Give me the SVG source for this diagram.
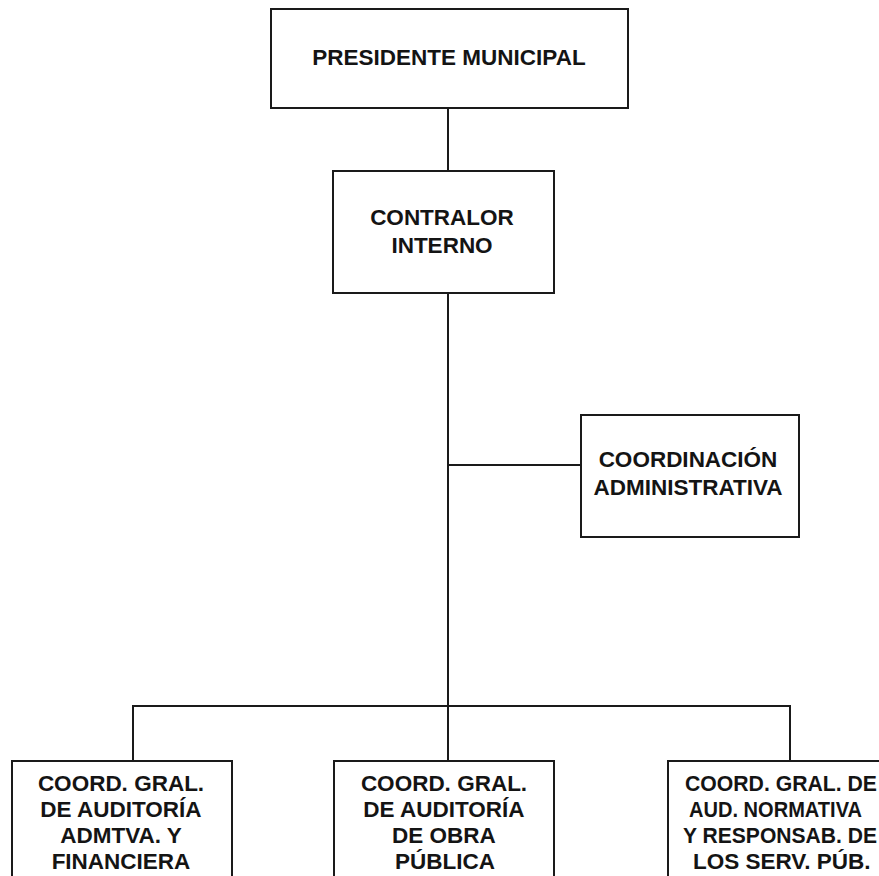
<svg xmlns="http://www.w3.org/2000/svg" width="879" height="876" viewBox="0 0 879 876">
  <style>
    .box { fill: #ffffff; stroke: #1a1a1a; stroke-width: 2; }
    .lbl { font-family: "Liberation Sans", Arial, sans-serif; font-weight: bold; font-size: 22.5px; fill: #141414; text-anchor: middle; }
    .lbs { font-family: "Liberation Sans", Arial, sans-serif; font-weight: bold; font-size: 22.5px; fill: #141414; }
    .con { fill: none; stroke: #1a1a1a; stroke-width: 2; }
  </style>
  <rect width="879" height="876" fill="#ffffff"/>
  <g id="connectors">
    <line class="con" x1="448" y1="108" x2="448" y2="171"/>
    <line class="con" x1="448" y1="293" x2="448" y2="706"/>
    <line class="con" x1="448" y1="465" x2="581" y2="465"/>
    <polyline class="con" points="133,761 133,706 790,706 790,761"/>
    <line class="con" x1="448" y1="706" x2="448" y2="761"/>
  </g>
  <g id="presidente">
    <rect class="box" x="271" y="9" width="357" height="99"/>
    <text class="lbl" x="449" y="65">PRESIDENTE MUNICIPAL</text>
  </g>
  <g id="contralor">
    <rect class="box" x="333" y="171" width="221" height="122"/>
    <text class="lbl" x="442" y="225">CONTRALOR</text>
    <text class="lbl" x="442" y="253">INTERNO</text>
  </g>
  <g id="coordinacion">
    <rect class="box" x="581" y="415" width="218" height="122"/>
    <text class="lbl" x="688" y="467">COORDINACIÓN</text>
    <text class="lbl" x="688" y="495">ADMINISTRATIVA</text>
  </g>
  <g id="auditoria-admtva">
    <rect class="box" x="12" y="761" width="220" height="130"/>
    <text class="lbl" x="121" y="791">COORD. GRAL.</text>
    <text class="lbl" x="121" y="817">DE AUDITORÍA</text>
    <text class="lbl" x="121" y="843">ADMTVA. Y</text>
    <text class="lbl" x="121" y="869">FINANCIERA</text>
  </g>
  <g id="auditoria-obra">
    <rect class="box" x="334" y="761" width="220" height="130"/>
    <text class="lbl" x="444" y="791">COORD. GRAL.</text>
    <text class="lbl" x="444" y="817">DE AUDITORÍA</text>
    <text class="lbl" x="444" y="843">DE OBRA</text>
    <text class="lbl" x="445" y="869">PÚBLICA</text>
  </g>
  <g id="auditoria-normativa">
    <rect class="box" x="668" y="761" width="220" height="130"/>
    <text class="lbs" x="685" y="791" textLength="192" lengthAdjust="spacingAndGlyphs">COORD. GRAL. DE</text>
    <text class="lbs" x="689" y="817" textLength="173" lengthAdjust="spacingAndGlyphs">AUD. NORMATIVA</text>
    <text class="lbs" x="683" y="843" textLength="194" lengthAdjust="spacingAndGlyphs">Y RESPONSAB. DE</text>
    <text class="lbs" x="693" y="869">LOS SERV. PÚB.</text>
  </g>
</svg>
